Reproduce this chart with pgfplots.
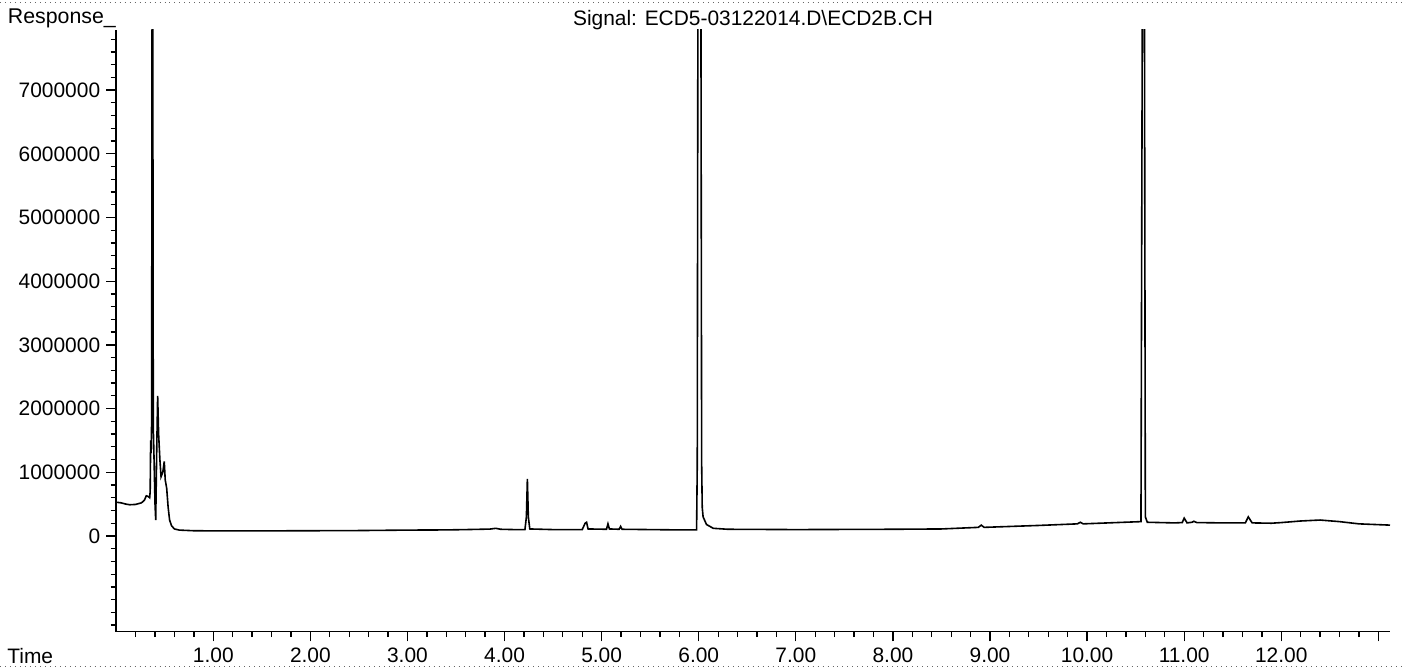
\documentclass[border=0pt]{standalone}
\usepackage{pgfplots}
\pgfplotsset{compat=1.18}
\usepackage{fontspec}
\setmainfont{Liberation Sans}
\begin{document}
\begin{tikzpicture}
\useasboundingbox (-58.1bp,-18.25bp) rectangle (644.9bp,315.75bp);
\begin{axis}[
  name=main,
  at={(0,0)}, anchor=south west,
  scale only axis, width=636.9bp, height=300.95bp,
  xmin=0, xmax=13.12, ymin=-1500000, ymax=7950000,
  axis x line*=bottom, axis y line*=left,
  axis line style={-, line width=0.75bp},
  tick align=outside,
  major tick length=5bp, minor tick length=2.8bp,
  every tick/.style={black, line width=0.65bp},
  xtick={1,2,3,4,5,6,7,8,9,10,11,12,13},
  xticklabels={1.00,2.00,3.00,4.00,5.00,6.00,7.00,8.00,9.00,10.00,11.00,12.00,{}},
  minor xtick={0.2,0.4,...,13.0},
  ytick={0,1000000,2000000,3000000,4000000,5000000,6000000,7000000},
  yticklabels={0,1000000,2000000,3000000,4000000,5000000,6000000,7000000},
  minor ytick={-1400000,-1200000,-1000000,-800000,-600000,-400000,-200000,200000,400000,600000,800000,1200000,1400000,1600000,1800000,2200000,2400000,2600000,2800000,3200000,3400000,3600000,3800000,4200000,4400000,4600000,4800000,5200000,5400000,5600000,5800000,6200000,6400000,6600000,6800000,7200000,7400000,7600000,7800000},
  scaled y ticks=false, scaled x ticks=false,
  /pgf/number format/assume math mode=true,
  ticklabel style={font=\fontsize{10.5}{12}\selectfont},
  yticklabel style={xshift=0.5bp},
  xticklabel style={anchor=base, yshift=-10.5bp},
  clip=true,
]
\addplot[black, line width=0.8bp] coordinates {
(0.00,530000) (0.05,520000) (0.10,500000) (0.14,490000) (0.20,495000) (0.26,520000)
(0.29,560000) (0.31,630000) (0.33,620000) (0.345,600000) (0.350,700000) (0.355,1500000)
(0.360,1300000) (0.365,1800000) (0.370,9000000) (0.376,9000000) (0.382,1700000)
(0.390,1200000) (0.400,500000) (0.407,250000) (0.418,1400000) (0.427,2200000)
(0.437,1600000) (0.450,1200000) (0.462,930000) (0.480,1000000) (0.495,1170000)
(0.505,880000) (0.520,750000) (0.535,450000) (0.550,250000) (0.570,160000)
(0.600,110000) (0.650,92000) (0.80,82000) (1.0,80000) (1.5,80000) (2.0,82000)
(2.5,85000) (3.0,92000) (3.4,95000) (3.6,100000) (3.85,108000) (3.91,120000)
(3.96,105000) (4.1,100000) (4.21,100000) (4.225,300000) (4.235,895000) (4.245,300000)
(4.26,110000) (4.5,100000) (4.8,100000) (4.83,200000) (4.845,215000) (4.86,110000)
(5.05,105000) (5.065,190000) (5.08,110000) (5.18,105000) (5.195,150000) (5.21,105000)
(5.5,100000) (5.8,95000) (5.978,95000) (5.985,1150000) (5.992,9000000) (6.022,9000000)
(6.03,1150000) (6.036,450000) (6.045,300000) (6.08,180000) (6.15,120000) (6.3,105000)
(7.0,100000) (8.0,105000) (8.5,110000) (8.88,135000) (8.91,170000) (8.94,135000)
(9.5,165000) (9.9,190000) (9.93,215000) (9.96,190000) (10.3,210000) (10.555,225000)
(10.57,9000000) (10.59,9000000) (10.60,300000) (10.62,215000) (10.9,205000)
(10.98,210000) (11.0,280000) (11.03,205000) (11.08,215000) (11.1,230000) (11.13,210000)
(11.4,205000) (11.63,205000) (11.66,300000) (11.7,205000) (11.9,200000) (12.0,210000)
(12.2,235000) (12.4,250000) (12.6,225000) (12.8,190000) (13.12,170000)
};
\end{axis}
\node[anchor=base east, font=\fontsize{10.7}{12}\selectfont, inner sep=0pt]
  at ([yshift=3.25bp]main.north west) {Response\_};
\node[anchor=base, font=\fontsize{10.5}{12}\selectfont, inner sep=0pt]
  at ([yshift=2.25bp]main.north) {Signal: ECD5-03122014.D\textbackslash ECD2B.CH};
\node[anchor=base west, font=\fontsize{10.5}{12}\selectfont, inner sep=0pt] at (-54.6bp,-15.9bp) {Time};
\draw[black!60, dotted, line width=0.5bp] (-58.1bp,314.25bp) -- (644.9bp,314.25bp);
\draw[black!60, dotted, line width=0.5bp] (-58.1bp,-17.25bp) -- (644.9bp,-17.25bp);
\end{tikzpicture}
\end{document}
